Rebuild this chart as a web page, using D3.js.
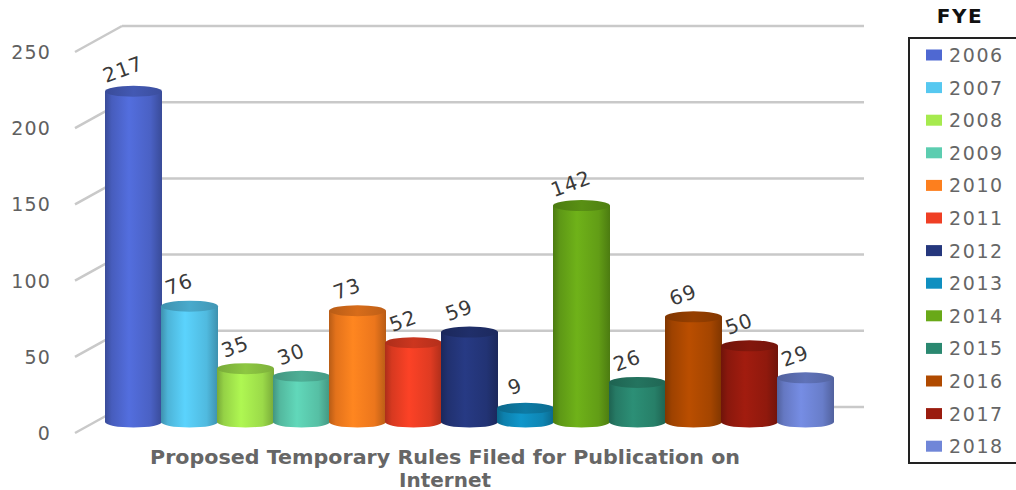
<!DOCTYPE html>
<html>
<head>
<meta charset="utf-8">
<script src="https://cdn.jsdelivr.net/npm/d3@7/dist/d3.min.js"></script>
<style>
  html, body { margin: 0; padding: 0; background: #fff; }
  svg { display: block; }
</style>
</head>
<body>
<svg id="chart" width="1016" height="490"></svg>
<script>
// Fiscal years and counts of proposed temporary rules
const years = ["2006","2007","2008","2009","2010","2011","2012","2013","2014","2015","2016","2017","2018"];
const counts = [217, 76, 35, 30, 73, 52, 59, 9, 142, 26, 69, 50, 29];
const colors = ["#4f68d2","#56c8f0","#a6ea4e","#5ccdb0","#fd7f1e","#ef3f24","#25377d","#0f8fc0","#69a918","#2a8870","#b04a00","#9a1b0e","#7086d8"];
const yTicks = [0, 50, 100, 150, 200, 250];
const titleLines = ["Proposed Temporary Rules Filed for Publication on", "Internet"];
const legendTitle = "FYE";

const svg = d3.select("#chart");
const defs = svg.append("defs");

// Back wall scale; bars sit on a plane in front of it, axis labels on the front edge
const y = d3.scaleLinear().domain([0, 250]).range([407, 26]);
const x = d3.scaleBand().domain(years).range([105, 833]).padding(0);
const barShift = 15;     // bar plane offset below the back wall
const frontShift = 26;   // front edge offset
const wallLeft = 122, wallRight = 864, frontLeft = 75;
const ry = 5.5;

// Gridlines: back horizontal plus floor diagonal to the front edge
const grid = svg.append("g").attr("stroke", "#c9c9c9").attr("stroke-width", 2.5).attr("fill", "none");
yTicks.forEach(t => {
  grid.append("line").attr("x1", wallLeft).attr("x2", wallRight).attr("y1", y(t)).attr("y2", y(t));
  grid.append("line").attr("x1", frontLeft).attr("x2", wallLeft).attr("y1", y(t) + frontShift).attr("y2", y(t));
});

// Axis labels
svg.append("g").selectAll("text").data(yTicks).join("text")
  .attr("x", 51).attr("y", d => y(d) + frontShift)
  .attr("text-anchor", "end").attr("dominant-baseline", "central")
  .attr("font-family", "DejaVu Sans").attr("font-size", 19).attr("letter-spacing", 1.2)
  .attr("fill", "#606060")
  .text(d => d);

// Cylinder gradients
years.forEach((yr, i) => {
  const c = d3.color(colors[i]);
  const g = defs.append("linearGradient").attr("id", "side" + i).attr("x1", 0).attr("x2", 1).attr("y1", 0).attr("y2", 0);
  g.append("stop").attr("offset", "0%").attr("stop-color", c.darker(0.9));
  g.append("stop").attr("offset", "12%").attr("stop-color", c.darker(0.3));
  g.append("stop").attr("offset", "42%").attr("stop-color", c.brighter(0.15));
  g.append("stop").attr("offset", "80%").attr("stop-color", c.darker(0.2));
  g.append("stop").attr("offset", "100%").attr("stop-color", c.darker(0.9));
  const t = defs.append("linearGradient").attr("id", "top" + i).attr("x1", 0).attr("x2", 1).attr("y1", 0).attr("y2", 0);
  t.append("stop").attr("offset", "0%").attr("stop-color", c.darker(0.9));
  t.append("stop").attr("offset", "50%").attr("stop-color", c.darker(0.45));
  t.append("stop").attr("offset", "100%").attr("stop-color", c.darker(0.8));
});

// Bars drawn as cylinders
const bars = svg.append("g");
years.forEach((yr, i) => {
  const x0 = x(yr), w = x.bandwidth() + 1, rx = w / 2, cx = x0 + rx;
  const yTop = y(counts[i]) + barShift, yBot = y(0) + barShift;
  bars.append("path")
    .attr("d", `M${x0},${yTop} L${x0},${yBot} A${rx},${ry} 0 0 0 ${x0 + w},${yBot} L${x0 + w},${yTop} Z`)
    .attr("fill", `url(#side${i})`);
  bars.append("ellipse")
    .attr("cx", cx).attr("cy", yTop).attr("rx", rx).attr("ry", ry)
    .attr("fill", `url(#top${i})`);
});

// Value labels, tilted
svg.append("g").selectAll("text").data(years).join("text")
  .attr("transform", (d, i) => `translate(${x(d) + x.bandwidth() / 2 - 10},${y(counts[i]) + barShift - 22}) rotate(-20)`)
  .attr("text-anchor", "middle").attr("dominant-baseline", "central")
  .attr("font-family", "DejaVu Sans").attr("font-size", 20).attr("letter-spacing", 1)
  .attr("fill", "#3a3a3a")
  .text((d, i) => counts[i]);

// Category title under the bars
const title = svg.append("g").attr("font-family", "DejaVu Sans").attr("font-weight", "bold")
  .attr("font-size", 19).attr("fill", "#666").attr("text-anchor", "middle");
title.append("text").attr("x", 445).attr("y", 464).text(titleLines[0])
  .attr("textLength", 590).attr("lengthAdjust", "spacingAndGlyphs");
title.append("text").attr("x", 445).attr("y", 487).text(titleLines[1])
  .attr("textLength", 92).attr("lengthAdjust", "spacingAndGlyphs");

// Legend
svg.append("text").attr("x", 960).attr("y", 23).attr("text-anchor", "middle")
  .attr("font-family", "DejaVu Sans").attr("font-weight", "bold").attr("font-size", 20)
  .attr("letter-spacing", 1.5).attr("fill", "#111").text(legendTitle);
svg.append("rect").attr("x", 909).attr("y", 38).attr("width", 130).attr("height", 425)
  .attr("fill", "none").attr("stroke", "#222").attr("stroke-width", 2);
const leg = svg.append("g").selectAll("g").data(years).join("g")
  .attr("transform", (d, i) => `translate(926,${55 + i * 32.6})`);
leg.append("rect").attr("x", 0).attr("y", -5.5).attr("width", 16).attr("height", 11)
  .attr("fill", (d, i) => colors[i]);
leg.append("text").attr("x", 23).attr("y", 0).attr("dominant-baseline", "central")
  .attr("font-family", "DejaVu Sans").attr("font-size", 19).attr("letter-spacing", 1.6)
  .attr("fill", "#666")
  .text(d => d);
</script>
</body>
</html>
